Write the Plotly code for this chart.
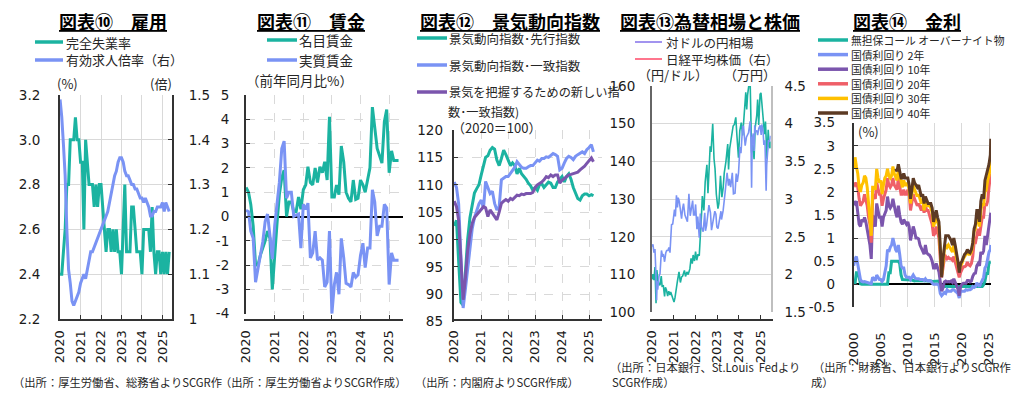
import plotly.graph_objects as go
import pandas as pd

# The page body has an 8px margin, so the figure is sized to fit and all
# positions below are given in page pixels and converted with X()/Y().
PAGE_W, PAGE_H = 1021, 395
OFF = 8
W, H = PAGE_W - OFF, PAGE_H - OFF
CJK = "Noto Sans CJK JP"
NUM = "DejaVu Sans"
TEAL = "#1bb3a1"
BLUE = "#7a93f4"
PURPLE = "#7b55ad"
RED = "#ef5f68"
YELLOW = "#ffc000"
BROWN = "#5c3a24"
GRID = "#d9d9d9"
AXC = "#333333"

# ---------------- Panel 10 : employment (monthly, 2020-01 .. 2025-05)
months65 = pd.date_range("2020-01-01", periods=65, freq="MS")
unemp = [2.4, 2.4, 2.5, 2.6, 2.8, 2.8, 3.0, 3.0, 3.0, 3.1, 3.0, 3.0,
         2.9, 2.9, 2.6, 3.0, 2.9, 2.8, 2.8, 2.8, 2.7, 2.8, 2.7, 2.8,
         2.8, 2.7, 2.6, 2.5, 2.6, 2.6, 2.5, 2.6, 2.5, 2.6, 2.5, 2.5,
         2.4, 2.6, 2.8, 2.5, 2.5, 2.5, 2.7, 2.7, 2.6, 2.5, 2.5, 2.5,
         2.4, 2.6, 2.6, 2.6, 2.6, 2.5, 2.7, 2.5, 2.4, 2.5, 2.5, 2.4,
         2.5, 2.4, 2.5, 2.4, 2.5]
job_ratio = [1.49, 1.45, 1.39, 1.32, 1.20, 1.11, 1.08, 1.04, 1.03, 1.04, 1.05, 1.06,
             1.08, 1.09, 1.10, 1.09, 1.11, 1.13, 1.15, 1.15, 1.16, 1.17, 1.18, 1.19,
             1.20, 1.21, 1.22, 1.23, 1.24, 1.26, 1.28, 1.30, 1.32, 1.33, 1.35, 1.36,
             1.36, 1.35, 1.33, 1.32, 1.32, 1.31, 1.30, 1.30, 1.29, 1.29, 1.28, 1.27,
             1.27, 1.26, 1.27, 1.26, 1.25, 1.23, 1.23, 1.24, 1.24, 1.25, 1.25, 1.25,
             1.26, 1.24, 1.26, 1.25, 1.24]

# ---------------- Panel 11 : wages (y/y %, monthly 2020-01 .. 2025-05)
wage_nominal = [1.2, 1.0, 0.5, -0.4, -2.0, -2.0, -1.6, -1.3, -1.0, -0.6, -0.9, -3.0,
                -1.4, -0.2, 0.9, 1.6, 1.9, 0.0, 0.6, 0.6, 0.2, 0.2, 0.8, 0.3,
                1.1, 1.3, 2.05, 1.4, 1.3, 2.0, 1.4, 2.05, 1.8, 2.25, 1.5, 4.1,
                0.8, 0.8, 1.3, 0.9, 2.9, 2.25, 1.0, 0.75, 0.6, 1.5, 0.7, 0.75,
                1.5, 1.3, 1.0, 1.55, 2.0, 4.5, 3.6, 2.8, 2.5, 2.2, 3.9, 4.4,
                1.8, 2.7, 2.3, 2.3, 2.3]
wage_real = [0.25, 0.2, -0.6, -0.9, -2.7, -2.1, -1.6, -1.05, -0.2, 0.1, -0.8, -1.75,
             -0.35, 0.6, 1.4, 2.8, 3.1, 0.75, 1.0, 1.0, 0.0, 0.05, 0.1, -1.3,
             0.5, 0.3, 0.55, -1.7, -1.5, -0.6, -1.8, -1.7, -1.8, -2.9, -2.7, -0.6,
             -4.0, -2.8, -2.3, -3.2, -0.9, -1.7, -2.75, -2.8, -2.9, -2.3, -2.5, -2.4,
             -1.6, -1.1, -2.1, -1.3, -1.3, 1.1, 0.6, -0.8, -0.4, -0.4, 0.5, 0.35,
             -2.8, -1.5, -1.8, -1.8, -1.8]

# ---------------- Panel 12 : business conditions (2020=100, monthly 2020-01 .. 2025-03)
months63 = pd.date_range("2020-01-01", periods=63, freq="MS")
ci_leading = [102.5, 103.5, 96, 88.5, 88, 95, 100, 104, 106.5, 108.5, 109.3, 110,
              111.8, 113.5, 115, 115.3, 116.3, 116.8, 116.5, 114.5, 113.5, 114.8, 116.3, 115.5,
              114.5, 113.5, 114, 113.5, 112, 113, 112, 111.5, 111, 110.3, 109.8, 109,
              109.5, 109, 110, 110.2, 109.5, 110, 110.5, 110.3, 109.5, 109.5, 110.5, 111,
              111.5, 110.5, 111.5, 112, 111, 109.5, 108.5, 107.5, 107.2, 108, 108.3, 108.3,
              108, 108.2, 108]
ci_coincident = [110.5, 109.5, 106.5, 96, 87.5, 91, 95, 99, 102, 104, 105.1, 106.5,
                 107.2, 105.7, 110.6, 109.5, 108.4, 108.8, 106.6, 105.4, 106, 110.9, 111.2, 111.5,
                 111.5, 112.1, 112.5, 113.2, 114.2, 113.6, 113.2, 113, 113, 113.3, 113.5, 113.5,
                 114, 114.5, 114.3, 114.8, 114.8, 115.1, 115, 115.3, 115.7, 115.5, 115.2, 112.7,
                 113, 114, 114.8, 115.2, 115, 114.6, 115.2, 115.5, 115.8, 116, 115.7, 116.4,
                 116.8, 117.3, 116]
ci_new = [107, 106, 103.5, 96, 89, 93, 98, 101, 103, 104, 104.5, 104.8,
          105.4, 106, 105.8, 104.2, 105.4, 104.8, 104.2, 103.6, 105, 106.6, 107, 107.3,
          107, 107.5, 107.3, 107.8, 108.1, 108, 108.3, 108.2, 108.4, 108.4, 108.4, 108.6,
          109.5, 110, 110.2, 110.5, 110.9, 111.5, 111.3, 111.8, 111.5, 111.8, 111.8, 110.3,
          110.8, 111.2, 111.5, 111.8, 111.9, 112, 112.2, 112.3, 112.7, 113, 113.4, 113.9,
          114.5, 114.9, 114.2]

# ---------------- Panel 13 : USD/JPY and Nikkei
fx_dates = ["2020-01-02", "2020-01-17", "2020-02-03", "2020-02-20", "2020-03-09", "2020-03-23",
            "2020-04-06", "2020-04-24", "2020-05-15", "2020-06-05", "2020-06-19", "2020-07-10",
            "2020-07-31", "2020-08-14", "2020-09-01", "2020-09-21", "2020-10-09", "2020-10-30",
            "2020-11-11", "2020-12-01", "2020-12-17", "2021-01-06", "2021-01-22", "2021-02-17",
            "2021-03-05", "2021-03-31", "2021-04-23", "2021-05-14", "2021-06-01", "2021-06-30",
            "2021-07-19", "2021-08-11", "2021-09-01", "2021-09-30", "2021-10-20", "2021-11-10",
            "2021-11-24", "2021-12-17", "2022-01-04", "2022-01-24", "2022-02-14", "2022-03-07",
            "2022-03-28", "2022-04-13", "2022-04-28", "2022-05-24", "2022-06-15", "2022-06-29",
            "2022-07-14", "2022-08-01", "2022-08-19", "2022-09-07", "2022-09-22", "2022-10-20",
            "2022-11-11", "2022-11-28", "2022-12-20", "2023-01-16", "2023-02-01", "2023-02-28",
            "2023-03-24", "2023-04-14", "2023-05-02", "2023-05-30", "2023-06-30", "2023-07-14",
            "2023-08-01", "2023-08-29", "2023-09-29", "2023-10-20", "2023-11-13", "2023-12-01",
            "2023-12-28", "2024-01-19", "2024-02-13", "2024-03-08", "2024-03-27", "2024-04-29",
            "2024-05-15", "2024-05-29", "2024-06-26", "2024-07-11", "2024-08-05", "2024-08-23",
            "2024-09-16", "2024-10-04", "2024-10-31", "2024-11-15", "2024-12-03", "2024-12-26",
            "2025-01-10", "2025-01-31", "2025-02-28", "2025-03-11", "2025-03-27", "2025-04-21",
            "2025-05-12", "2025-05-28", "2025-06-13", "2025-06-20"]
usdjpy = [108.7, 110.1, 108.5, 112.0, 102.4, 111.2,
          109.0, 107.5, 107.2, 109.6, 106.9, 107.0,
          104.2, 106.6, 105.9, 104.3, 105.6, 104.6,
          105.4, 104.3, 103.1, 102.7, 103.8, 106.0,
          108.3, 110.7, 107.9, 109.4, 109.6, 111.1,
          109.5, 110.7, 110.0, 111.5, 114.3, 112.9,
          115.2, 113.6, 116.1, 113.8, 115.4, 115.0,
          123.7, 125.5, 130.8, 127.0, 134.5, 136.5,
          139.1, 131.6, 136.9, 144.0, 142.5, 150.0,
          140.7, 138.1, 131.3, 127.5, 128.8, 136.2,
          130.5, 133.0, 136.9, 139.9, 144.6, 137.9,
          143.3, 146.1, 149.4, 149.8, 151.7, 147.0,
          141.0, 148.1, 150.3, 146.9, 151.8, 158.3,
          153.8, 157.5, 161.0, 161.7, 142.4, 144.4,
          140.6, 148.9, 152.2, 156.4, 149.7, 157.8,
          158.2, 154.9, 150.8, 147.2, 150.6, 140.7,
          148.4, 144.0, 143.5, 145.3]
nk_dates = ["2020-01-02", "2020-01-17", "2020-02-03", "2020-02-20", "2020-03-09", "2020-03-19",
            "2020-03-25", "2020-04-06", "2020-04-28", "2020-05-15", "2020-06-08", "2020-06-26",
            "2020-07-13", "2020-07-31", "2020-08-21", "2020-09-04", "2020-09-25", "2020-10-12",
            "2020-10-30", "2020-11-09", "2020-11-25", "2020-12-15", "2020-12-29", "2021-01-14",
            "2021-01-29", "2021-02-16", "2021-03-05", "2021-03-18", "2021-04-05", "2021-04-21",
            "2021-05-13", "2021-06-01", "2021-06-15", "2021-07-09", "2021-07-30", "2021-08-20",
            "2021-09-03", "2021-09-14", "2021-10-06", "2021-10-25", "2021-11-16", "2021-12-01",
            "2021-12-20", "2022-01-05", "2022-01-27", "2022-02-10", "2022-02-24", "2022-03-08",
            "2022-03-25", "2022-04-12", "2022-05-12", "2022-06-08", "2022-06-20", "2022-07-08",
            "2022-08-17", "2022-09-12", "2022-09-30", "2022-10-21", "2022-11-24", "2022-12-13",
            "2022-12-28", "2023-01-17", "2023-02-15", "2023-03-08", "2023-03-17", "2023-04-14",
            "2023-05-17", "2023-06-19", "2023-07-12", "2023-07-28", "2023-08-18", "2023-09-15",
            "2023-10-04", "2023-10-31", "2023-11-20", "2023-12-08", "2023-12-29", "2024-01-22",
            "2024-02-08", "2024-02-22", "2024-03-07", "2024-03-22", "2024-04-19", "2024-05-10",
            "2024-05-31", "2024-06-14", "2024-07-11", "2024-07-25", "2024-08-05", "2024-08-16",
            "2024-09-02", "2024-09-18", "2024-09-27", "2024-10-08", "2024-10-31", "2024-11-15",
            "2024-12-05", "2024-12-27", "2025-01-14", "2025-01-24", "2025-02-14", "2025-02-28",
            "2025-03-18", "2025-04-07", "2025-04-17", "2025-05-01", "2025-05-16", "2025-06-05",
            "2025-06-20"]
nikkei = [2.37, 2.40, 2.29, 2.34, 1.97, 1.66,
          1.91, 1.80, 1.98, 2.01, 2.32, 2.25,
          2.26, 2.17, 2.29, 2.32, 2.32, 2.36,
          2.29, 2.44, 2.66, 2.67, 2.76, 2.86,
          2.77, 3.05, 2.89, 3.02, 2.97, 2.84,
          2.74, 2.88, 2.94, 2.79, 2.73, 2.70,
          2.91, 3.07, 2.78, 2.86, 2.98, 2.79,
          2.79, 2.93, 2.60, 2.77, 2.60, 2.49,
          2.81, 2.63, 2.57, 2.82, 2.58, 2.65,
          2.92, 2.82, 2.59, 2.69, 2.84, 2.80,
          2.63, 2.61, 2.75, 2.84, 2.73, 2.85,
          3.09, 3.35, 3.18, 3.27, 3.16, 3.35,
          3.07, 3.08, 3.34, 3.23, 3.35, 3.69,
          3.61, 3.91, 3.97, 3.96, 3.71, 3.82,
          3.85, 3.88, 4.03, 3.79, 3.15, 3.80,
          3.87, 3.64, 3.98, 3.89, 3.91, 3.85,
          3.94, 3.98, 3.85, 3.99, 3.91, 3.72,
          3.78, 3.11, 3.45, 3.63, 3.78, 3.76,
          3.84]

# ---------------- Panel 14 : interest rates (%, quarterly 2000Q1 .. 2025Q2 + 2025-05)
q_dates = list(pd.date_range("2000-01-01", "2025-04-01", freq="QS")) + [pd.Timestamp("2025-05-01")]
call_rate = [0.02, 0.02, 0.25, 0.25, 0.15, 0.01, 0.00, 0.00, 0.00, 0.00, 0.00, 0.00,
             0.00, 0.00, 0.00, 0.00, 0.00, 0.00, 0.00, 0.00, 0.00, 0.00, 0.00, 0.00,
             0.00, 0.00, 0.25, 0.25, 0.50, 0.50, 0.50, 0.50, 0.50, 0.50, 0.45, 0.20,
             0.10, 0.10, 0.10, 0.10, 0.10, 0.09, 0.09, 0.09, 0.08, 0.07, 0.08, 0.08,
             0.08, 0.08, 0.08, 0.08, 0.07, 0.07, 0.07, 0.07, 0.07, 0.07, 0.06, 0.06,
             0.07, 0.07, 0.07, 0.07, 0.00, -0.05, -0.05, -0.05, -0.05, -0.05, -0.05, -0.05,
             -0.05, -0.05, -0.05, -0.05, -0.05, -0.05, -0.05, -0.05, -0.05, -0.05, -0.05, -0.05,
             -0.05, -0.05, -0.05, -0.05, -0.05, -0.05, -0.05, -0.05, -0.05, -0.05, -0.05, -0.05,
             -0.01, 0.07, 0.23, 0.23, 0.47, 0.48, 0.48]
jgb2 = [0.40, 0.55, 0.60, 0.45, 0.25, 0.10, 0.06, 0.05, 0.06, 0.05, 0.05, 0.04,
        0.03, 0.01, 0.15, 0.12, 0.08, 0.20, 0.15, 0.10, 0.10, 0.06, 0.10, 0.25,
        0.40, 0.75, 0.70, 0.80, 0.85, 1.00, 0.85, 0.75, 0.70, 0.85, 0.65, 0.40,
        0.35, 0.35, 0.20, 0.15, 0.15, 0.15, 0.10, 0.15, 0.20, 0.15, 0.12, 0.12,
        0.12, 0.10, 0.10, 0.10, 0.08, 0.12, 0.08, 0.07, 0.08, 0.07, 0.02, 0.00,
        0.00, 0.00, 0.00, -0.02, -0.20, -0.25, -0.20, -0.18, -0.20, -0.12, -0.15, -0.15,
        -0.15, -0.12, -0.12, -0.15, -0.18, -0.20, -0.30, -0.15, -0.15, -0.15, -0.15, -0.12,
        -0.13, -0.12, -0.12, -0.10, -0.05, -0.07, -0.05, 0.03, 0.00, -0.05, 0.02, 0.08,
        0.15, 0.35, 0.40, 0.55, 0.70, 0.75, 0.85]
jgb10 = [1.80, 1.75, 1.80, 1.60, 1.30, 1.25, 1.40, 1.35, 1.45, 1.35, 1.20, 1.00,
         0.85, 0.55, 1.50, 1.35, 1.25, 1.75, 1.55, 1.45, 1.45, 1.25, 1.45, 1.55,
         1.60, 1.90, 1.70, 1.65, 1.70, 1.85, 1.65, 1.55, 1.45, 1.70, 1.50, 1.35,
         1.30, 1.40, 1.35, 1.30, 1.35, 1.25, 0.95, 1.10, 1.25, 1.15, 1.00, 1.00,
         0.98, 0.85, 0.78, 0.75, 0.65, 0.85, 0.68, 0.65, 0.63, 0.58, 0.50, 0.35,
         0.35, 0.45, 0.35, 0.27, 0.05, -0.15, -0.08, 0.05, 0.07, 0.05, 0.06, 0.05,
         0.07, 0.04, 0.12, 0.05, -0.02, -0.10, -0.25, -0.05, 0.00, 0.02, 0.02, 0.02,
         0.08, 0.08, 0.05, 0.07, 0.17, 0.23, 0.24, 0.40, 0.45, 0.40, 0.70, 0.65,
         0.72, 1.05, 0.85, 1.05, 1.35, 1.45, 1.55]
jgb20 = [2.20, 2.15, 2.20, 2.10, 1.85, 1.70, 1.75, 1.80, 1.95, 1.85, 1.70, 1.45,
         1.30, 0.90, 1.85, 1.90, 1.85, 2.20, 2.05, 1.95, 1.95, 1.70, 1.85, 1.95,
         2.05, 2.30, 2.15, 2.10, 2.15, 2.30, 2.15, 2.10, 2.05, 2.30, 2.10, 1.95,
         1.95, 2.05, 1.95, 1.95, 2.05, 1.95, 1.60, 1.75, 1.95, 1.85, 1.75, 1.70,
         1.75, 1.65, 1.60, 1.70, 1.55, 1.70, 1.60, 1.60, 1.50, 1.45, 1.30, 1.05,
         1.10, 1.25, 1.10, 1.00, 0.55, 0.15, 0.35, 0.55, 0.60, 0.55, 0.58, 0.55,
         0.55, 0.52, 0.60, 0.50, 0.40, 0.25, 0.15, 0.25, 0.30, 0.38, 0.38, 0.40,
         0.48, 0.42, 0.40, 0.45, 0.60, 0.90, 0.90, 1.10, 1.20, 1.05, 1.30, 1.45,
         1.45, 1.75, 1.70, 1.80, 2.10, 2.35, 2.40]
jgb30 = [2.50, 2.75, 2.55, 2.40, 2.10, 2.00, 2.15, 2.20, 2.35, 2.30, 2.10, 1.75,
         1.50, 1.05, 2.10, 2.10, 2.05, 2.50, 2.30, 2.20, 2.25, 1.95, 2.15, 2.30,
         2.35, 2.50, 2.35, 2.30, 2.35, 2.55, 2.40, 2.30, 2.25, 2.50, 2.35, 2.20,
         2.10, 2.25, 2.15, 2.15, 2.20, 2.05, 1.75, 1.95, 2.15, 2.05, 1.95, 1.90,
         1.95, 1.85, 1.75, 1.85, 1.60, 1.80, 1.70, 1.70, 1.70, 1.65, 1.55, 1.25,
         1.35, 1.45, 1.35, 1.25, 0.70, 0.20, 0.45, 0.75, 0.85, 0.80, 0.85, 0.80,
         0.75, 0.70, 0.85, 0.70, 0.60, 0.40, 0.30, 0.40, 0.45, 0.55, 0.60, 0.65,
         0.70, 0.65, 0.65, 0.70, 0.85, 1.15, 1.20, 1.45, 1.45, 1.25, 1.60, 1.75,
         1.70, 2.00, 2.05, 2.25, 2.35, 2.55, 2.75]
jgb40_dates = q_dates[31:]
jgb40 = [2.50,
         2.45, 2.60, 2.45, 2.30, 2.30, 2.40, 2.30, 2.30, 2.30, 2.15, 1.85, 2.05,
         2.30, 2.20, 2.15, 2.10, 2.15, 2.00, 1.90, 1.95, 1.75, 1.90, 1.80, 1.75,
         1.75, 1.75, 1.65, 1.35, 1.50, 1.60, 1.45, 1.35, 0.80, 0.15, 0.55, 0.85,
         1.05, 1.05, 1.05, 1.00, 0.95, 0.85, 1.00, 0.85, 0.70, 0.50, 0.25, 0.45,
         0.50, 0.60, 0.65, 0.68, 0.75, 0.70, 0.68, 0.75, 0.90, 1.20, 1.30, 1.60,
         1.60, 1.35, 1.80, 1.95, 1.85, 2.25, 2.35, 2.50, 2.60, 2.80, 3.15]

# ---------------- helpers (page pixels -> paper fractions)
def X(p):
    return (p - OFF) / W

def Y(p):
    return 1 - (p - OFF) / H

fig = go.Figure()

def line(xv, yv, xa, ya, color, width=3):
    fig.add_trace(go.Scatter(x=xv, y=yv, xaxis=xa, yaxis=ya, mode="lines",
                             line=dict(color=color, width=width), showlegend=False,
                             hoverinfo="skip"))

line(months65, unemp, "x", "y", TEAL)
line(months65, job_ratio, "x", "y2", BLUE)
line(months65, wage_nominal, "x2", "y3", TEAL)
line(months65, wage_real, "x2", "y3", BLUE)
line(months63, ci_leading, "x3", "y4", TEAL)
line(months63, ci_coincident, "x3", "y4", BLUE)
line(months63, ci_new, "x3", "y4", PURPLE)
line(nk_dates, nikkei, "x4", "y6", BLUE, 1.6)
line(fx_dates, usdjpy, "x4", "y5", TEAL, 1.6)
line(q_dates, call_rate, "x5", "y7", TEAL)
line(q_dates, jgb2, "x5", "y7", BLUE)
line(q_dates, jgb10, "x5", "y7", PURPLE)
line(q_dates, jgb20, "x5", "y7", RED)
line(q_dates, jgb30, "x5", "y7", YELLOW)
line(jgb40_dates, jgb40, "x5", "y7", BROWN)

TICKF = dict(family=NUM, size=13.5, color="#1a1a1a")
YEARF = dict(family=NUM, size=13, color="#1a1a1a")

def xax(x0, x1, rng, dtick="M12", tick0="2020-01-01", grid=True, dash="solid", line=True,
        standoff=4):
    return dict(domain=[X(x0), X(x1)], type="date", range=rng, dtick=dtick, tick0=tick0,
                tickformat="%Y", tickangle=-90, tickfont=YEARF, showgrid=grid,
                gridcolor=GRID, griddash=dash, gridwidth=1, showline=line, linecolor=AXC,
                linewidth=2, ticks="inside" if line else "", ticklen=4, tickcolor=AXC,
                zeroline=False, automargin=False, fixedrange=True, ticklabelstandoff=standoff)

def yax(y0, y1, rng, tv, tt, grid=True, dash="solid", side="left", standoff=10,
        overlay=None, anchor=None, zeroline=False, linecolor=AXC, ticks="inside"):
    d = dict(range=rng, tickvals=tv, ticktext=tt, tickfont=TICKF, showgrid=grid,
             gridcolor=GRID, griddash=dash, showline=True, linecolor=linecolor, linewidth=2,
             ticks=ticks, ticklen=4, tickcolor=AXC, side=side, automargin=False,
             fixedrange=True, ticklabelstandoff=standoff, zeroline=zeroline,
             zerolinecolor="#000000", zerolinewidth=1.6)
    if overlay:
        d["overlaying"] = overlay
    else:
        d["domain"] = [Y(y0), Y(y1)]
    if anchor:
        d["anchor"] = anchor
    return d

def fmt(v):
    return "%g" % v

y1v = [2.2, 2.4, 2.6, 2.8, 3.0, 3.2]
y2v = [1.0, 1.1, 1.2, 1.3, 1.4, 1.5]
y3v = list(range(-4, 6))
y4v = list(range(85, 121, 5))
y5v = list(range(100, 161, 10))
y6v = [1.5, 2.0, 2.5, 3.0, 3.5, 4.0, 4.5]
y7v = [-0.5, 0, 0.5, 1.0, 1.5, 2.0, 2.5, 3.0, 3.5]

fig.update_layout(
    width=W, height=H, margin=dict(l=0, r=0, t=0, b=0), template="none",
    paper_bgcolor="white", plot_bgcolor="white", showlegend=False,
    xaxis=xax(60, 172, ["2019-12-31", "2025-06-20"]),
    yaxis=yax(319, 95, [2.2, 3.2], y1v, ["%.1f" % v for v in y1v], standoff=15, anchor="x",
              ticks=""),
    yaxis2=yax(0, 0, [1.0, 1.5], y2v, [fmt(v) for v in y2v], grid=False, side="right",
               standoff=12, overlay="y", anchor="x"),
    xaxis2=xax(246, 403, ["2019-12-31", "2025-06-27"], dash="dash"),
    yaxis3=yax(313.7, 95, [-4, 5], y3v, [str(v) for v in y3v], dash="dash", standoff=12,
               anchor="x2", zeroline=True),
    xaxis3=xax(453.7, 602, ["2019-12-25", "2025-06-25"], dash="dash"),
    yaxis4=yax(321.7, 130, [85, 120], y4v, [str(v) for v in y4v], dash="dash", standoff=6,
               anchor="x3"),
    xaxis4=xax(652, 770.7, ["2020-01-01", "2025-06-23"], grid=False),
    yaxis5=yax(312.3, 86, [100, 160], y5v, [str(v) for v in y5v], standoff=12, anchor="x4",
               linecolor="#666666", ticks=""),
    yaxis6=yax(0, 0, [1.5, 4.5], y6v, [fmt(v) for v in y6v], grid=False, side="right",
               standoff=9, overlay="y5", anchor="x4", linecolor="#bfbfbf", ticks=""),
    xaxis5=xax(853.7, 991, ["2000-01-01", "2025-05-15"], dtick="M60", tick0="2000-01-01",
               line=False, standoff=10),
    yaxis7=yax(307.3, 122.7, [-0.5, 3.5], y7v, [fmt(v) for v in y7v], standoff=14,
               anchor="x5", zeroline=True),
)

# ---------------- texts (titles, legends, units, sources)
anns = []
shapes = []

def txt(s, x, y, size=13, anchor="left", bold=False, under=False, color="#262626", fam=CJK):
    f = dict(family=fam, size=size, color=color)
    if bold:
        f["weight"] = "bold"
    if under:
        f["lineposition"] = "under"
    anns.append(dict(text=s, x=X(x), y=Y(y), xref="paper", yref="paper", xanchor=anchor,
                     yanchor="middle", showarrow=False, font=f, borderpad=0))

def key(x0, x1, y, color, width=3.5):
    shapes.append(dict(type="line", xref="paper", yref="paper", x0=X(x0), x1=X(x1),
                       y0=Y(y), y1=Y(y), line=dict(color=color, width=width)))

TITLE = dict(size=18, bold=True, under=True, anchor="center", color="#000000")
txt("図表⑩　雇用", 113, 21, **TITLE)
txt("図表⑪　賃金", 311, 21, **TITLE)
txt("図表⑫　景気動向指数", 510, 21, **TITLE)
txt("図表⑬為替相場と株価", 710, 21, **TITLE)
txt("図表⑭　金利", 907, 21, **TITLE)

# panel 10 legend
key(35, 63, 42, TEAL); txt("完全失業率", 65, 42, 13)
key(35, 63, 60, BLUE); txt("有効求人倍率（右）", 65, 60, 13)
txt("(%)", 67, 83, 13, anchor="center")
txt("(倍)", 161, 83, 13, anchor="center")

# panel 11 legend
key(267, 297, 40, TEAL); txt("名目賃金", 298, 40, 13.5)
key(267, 297, 60, BLUE); txt("実質賃金", 298, 60, 13.5)
txt("（前年同月比%）", 245, 80, 13.5)

# panel 12 legend
key(417, 447, 38, TEAL); txt("景気動向指数･先行指数", 448, 38, 12.5)
key(417, 447, 65, BLUE); txt("景気動向指数･一致指数", 448, 65, 12.5)
key(417, 447, 92, PURPLE); txt("景気を把握するための新しい指", 448, 92, 12.2)
txt("数･一致指数)", 447, 112, 12.2)
txt("（2020＝100）", 451, 127, 13)

# panel 13 legend
key(635, 662, 42, "#7a66e8", 1.4); txt("対ドルの円相場", 665, 42, 12.5)
key(635, 662, 59, "#ff3b5c", 1.4); txt("日経平均株価（右）", 665, 59, 12.5)
txt("（円/ドル）", 673, 75, 13, anchor="center")
txt("（万円）", 750, 75, 13, anchor="center")

# panel 14 legend
p14 = [("無担保コール オーバーナイト物", TEAL), ("国債利回り 2年", BLUE),
       ("国債利回り 10年", PURPLE), ("国債利回り 20年", RED),
       ("国債利回り 30年", YELLOW), ("国債利回り 40年", BROWN)]
for i, (name, col) in enumerate(p14):
    yy = 40 + i * 14.6
    key(818, 848, yy, col)
    txt(name, 850, yy, 10.8)
txt("(%)", 857, 131, 13)

# sources
SRC = 11.3
txt("（出所：厚生労働省、総務省よりSCGR作", 12, 382, SRC)
txt("（出所：厚生労働省よりSCGR作成）", 219, 382, SRC)
txt("（出所：内閣府よりSCGR作成）", 414, 382, SRC)
txt("（出所：日本銀行、St.Louis  Fedより", 609, 367, SRC)
txt("SCGR作成）", 611, 382, SRC)
txt("（出所：財務省、日本銀行よりSCGR作", 812, 367, SRC)
txt("成）", 810, 382, SRC)

fig.update_layout(annotations=anns, shapes=shapes)
fig.write_html("out.html")
